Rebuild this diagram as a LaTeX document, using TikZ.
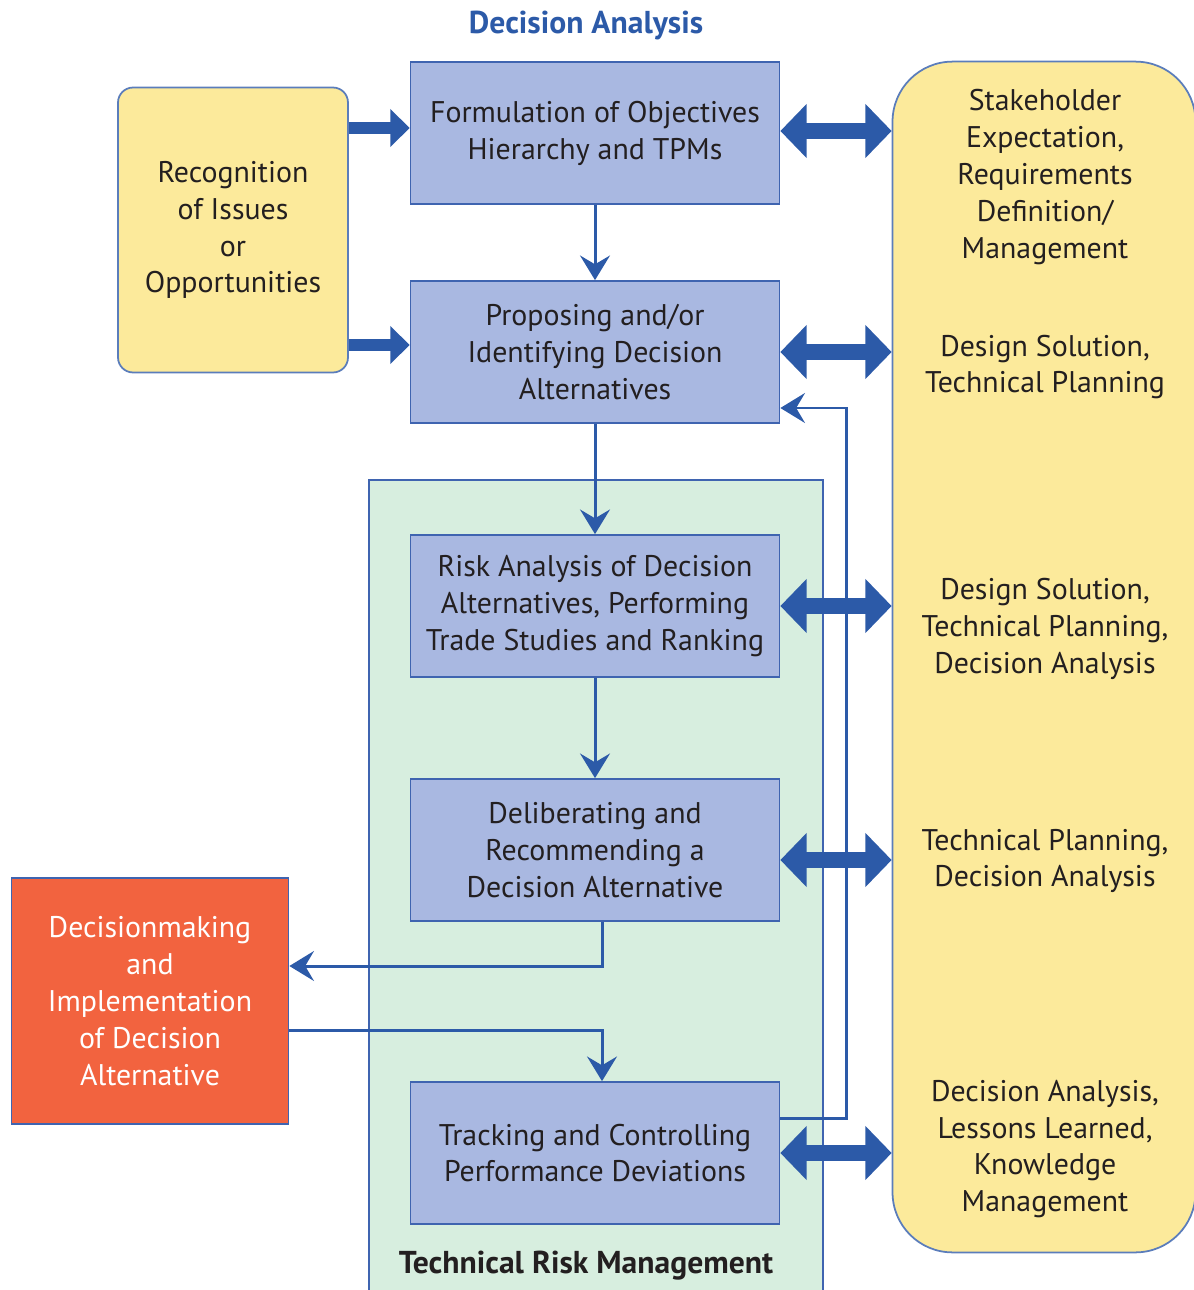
\documentclass[tikz,border=0pt]{standalone}
\usepackage{fontspec}
\setmainfont{PT Sans}
\usetikzlibrary{arrows.meta,calc}

\definecolor{boxfill}{HTML}{A9B8E1}
\definecolor{boxline}{HTML}{3F64B0}
\definecolor{sandfill}{HTML}{FCEA9B}
\definecolor{sandline}{HTML}{5B7DBB}
\definecolor{mintfill}{HTML}{D7EEDF}
\definecolor{redfill}{HTML}{F2633F}
\definecolor{arrowblue}{HTML}{2C5AA8}
\definecolor{inkgray}{HTML}{231F20}

\begin{document}
\begin{tikzpicture}[
    x=0.02cm, y=-0.02cm,
    proc/.style={draw=boxline, fill=boxfill, line width=1pt, align=center,
                 minimum width=7.38cm, minimum height=2.84cm, inner sep=0pt,
                 text=inkgray, font=\fontsize{17}{21}\selectfont},
    sand/.style={draw=sandline, fill=sandfill, line width=1pt, align=center,
                 inner sep=0pt, text=inkgray, font=\fontsize{17}{21}\selectfont},
    rtext/.style={align=center, text=inkgray, font=\fontsize{17}{21}\selectfont},
    fat/.style={arrowblue, line width=6.5pt,
                -{Triangle[length=11pt,width=21pt]}},
    fatboth/.style={arrowblue, line width=9pt,
                {Triangle[length=15pt,width=30pt]}-{Triangle[length=15pt,width=30pt]}},
    slim/.style={arrowblue, line width=1.7pt,
                -{Stealth[length=14pt,width=17pt,inset=5pt]}},
  ]
    \useasboundingbox (0,0) rectangle (1193,1290);

    % Backdrops --------------------------------------------------------------
    \node[fill=mintfill, minimum width=9.08cm, minimum height=16.4cm,
          inner sep=0pt] (trm) at (596,890) {};
    \draw[boxline, line width=1pt] (trm.south west) |- (trm.north east)
                                   -- (trm.south east);
    \node[sand, rounded corners=1.2cm, minimum width=6.06cm,
          minimum height=23.82cm] (rside) at (1044,657) {};

    % Titles -----------------------------------------------------------------
    \node[text=arrowblue, font=\fontsize{18}{21}\selectfont\bfseries]
         (title) at (586,26) {Decision Analysis};
    \node[text=inkgray, font=\fontsize{18}{21}\selectfont\bfseries]
         (trmlabel) at (586,1266) {Technical Risk Management};

    % Left column ------------------------------------------------------------
    \node[sand, rounded corners=0.3cm, minimum width=4.6cm,
          minimum height=5.7cm] (issues) at (233,230)
         {Recognition\\of Issues\\or\\Opportunities};
    \node[draw=boxline, fill=redfill, line width=1pt, align=center,
          minimum width=5.54cm, minimum height=4.92cm, inner sep=0pt,
          text=white, font=\fontsize{17}{21}\selectfont] (decide) at (150,1001)
         {Decisionmaking\\and\\Implementation\\of Decision\\Alternative};

    % Centre column ----------------------------------------------------------
    \node[proc] (formulate) at (595,133)  {Formulation of Objectives\\Hierarchy and TPMs};
    \node[proc] (propose)   at (595,352)  {Proposing and/or\\Identifying Decision\\Alternatives};
    \node[proc] (risk)      at (595,606)  {Risk Analysis of Decision\\Alternatives, Performing\\Trade Studies and Ranking};
    \node[proc] (deliberate) at (595,850) {Deliberating and\\Recommending a\\Decision Alternative};
    \node[proc] (track)     at (595,1153) {Tracking and Controlling\\Performance Deviations};

    % Right column texts -----------------------------------------------------
    \node[rtext] (stake)   at (1045,177)
         {Stakeholder\\Expectation,\\Requirements\\Definition/\\Management};
    \node[rtext] (design)  at (1045,367) {Design Solution,\\Technical Planning};
    \node[rtext] (design2) at (1045,629) {Design Solution,\\Technical Planning,\\Decision Analysis};
    \node[rtext] (techplan) at (1045,861) {Technical Planning,\\Decision Analysis};
    \node[rtext] (lessons) at (1045,1149)
         {Decision Analysis,\\Lessons Learned,\\Knowledge\\Management};

    % Arrows -----------------------------------------------------------------
    \draw[fat] ($(issues.east)+(0,-102)$) -- ($(formulate.west)+(0,-5)$);
    \draw[fat] ($(issues.east)+(0,115)$)  -- ($(propose.west)+(0,-7)$);

    \draw[fatboth] ($(formulate.east)+(0,-2)$) -- ($(formulate.east -| rside.west)+(0,-2)$);
    \draw[fatboth] (propose.east)    -- (propose.east -| rside.west);
    \draw[fatboth] (risk.east)       -- (risk.east -| rside.west);
    \draw[fatboth] ($(deliberate.east)+(0,10)$) -- ($(deliberate.east -| rside.west)+(0,10)$);
    \draw[fatboth] (track.east)      -- (track.east -| rside.west);

    \draw[slim] (formulate) -- (propose);
    \draw[slim] (propose)   -- (risk);
    \draw[slim] (risk)      -- (deliberate);
    \draw[slim] ($(deliberate.south)+(7,0)$) |- ($(decide.east)+(0,-35)$);
    \draw[slim] ($(decide.east)+(0,29)$) -| ($(track.north)+(7,0)$);
    \draw[slim] ($(track.east)+(0,-35)$) -- ++(66,0) |- ($(propose.east)+(0,56)$);
  \end{tikzpicture}
\end{document}
